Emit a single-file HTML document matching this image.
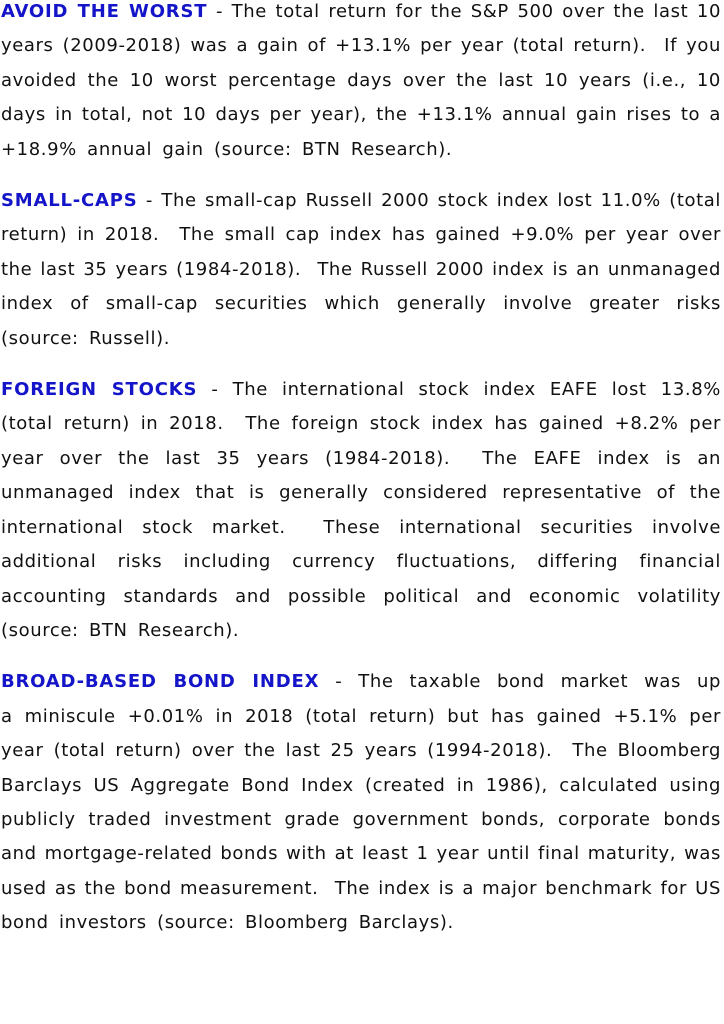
<!DOCTYPE html>
<html><head><meta charset="utf-8"><style>
html,body{margin:0;padding:0;background:#fff;width:724px;height:1024px;overflow:hidden}
body{font-family:"DejaVu Sans","Liberation Sans",sans-serif;font-size:18px;letter-spacing:0.6px;line-height:34.4px;color:#111}
.wrap{position:absolute;left:1px;top:-5px;width:720px}
p{margin:0 0 17px 0}
.l{display:block;text-align:justify;text-align-last:justify;white-space:nowrap}
.e{display:block;text-align:left;white-space:nowrap;word-spacing:4px}
b{color:#1414c8;letter-spacing:0.8px}
</style></head><body><div class="wrap">
<p><span class="l"><b>AVOID THE WORST</b> - The total return for the S&amp;P 500 over the last 10</span><span class="l">years (2009-2018) was a gain of +13.1% per year (total return). &nbsp;If you</span><span class="l">avoided the 10 worst percentage days over the last 10 years (i.e., 10</span><span class="l">days in total, not 10 days per year), the +13.1% annual gain rises to a</span><span class="e">+18.9% annual gain (source: BTN Research).</span></p>
<p><span class="l"><b>SMALL-CAPS</b> - The small-cap Russell 2000 stock index lost 11.0% (total</span><span class="l">return) in 2018. &nbsp;The small cap index has gained +9.0% per year over</span><span class="l">the last 35 years (1984-2018). &nbsp;The Russell 2000 index is an unmanaged</span><span class="l">index of small-cap securities which generally involve greater risks</span><span class="e">(source: Russell).</span></p>
<p><span class="l"><b>FOREIGN STOCKS</b> - The international stock index EAFE lost 13.8%</span><span class="l">(total return) in 2018. &nbsp;The foreign stock index has gained +8.2% per</span><span class="l">year over the last 35 years (1984-2018). &nbsp;The EAFE index is an</span><span class="l">unmanaged index that is generally considered representative of the</span><span class="l">international stock market. &nbsp;These international securities involve</span><span class="l">additional risks including currency fluctuations, differing financial</span><span class="l">accounting standards and possible political and economic volatility</span><span class="e">(source: BTN Research).</span></p>
<p><span class="l"><b>BROAD-BASED BOND INDEX</b> - The taxable bond market was up</span><span class="l">a miniscule +0.01% in 2018 (total return) but has gained +5.1% per</span><span class="l">year (total return) over the last 25 years (1994-2018). &nbsp;The Bloomberg</span><span class="l">Barclays US Aggregate Bond Index (created in 1986), calculated using</span><span class="l">publicly traded investment grade government bonds, corporate bonds</span><span class="l">and mortgage-related bonds with at least 1 year until final maturity, was</span><span class="l">used as the bond measurement. &nbsp;The index is a major benchmark for US</span><span class="e">bond investors (source: Bloomberg Barclays).</span></p>
</div></body></html>
